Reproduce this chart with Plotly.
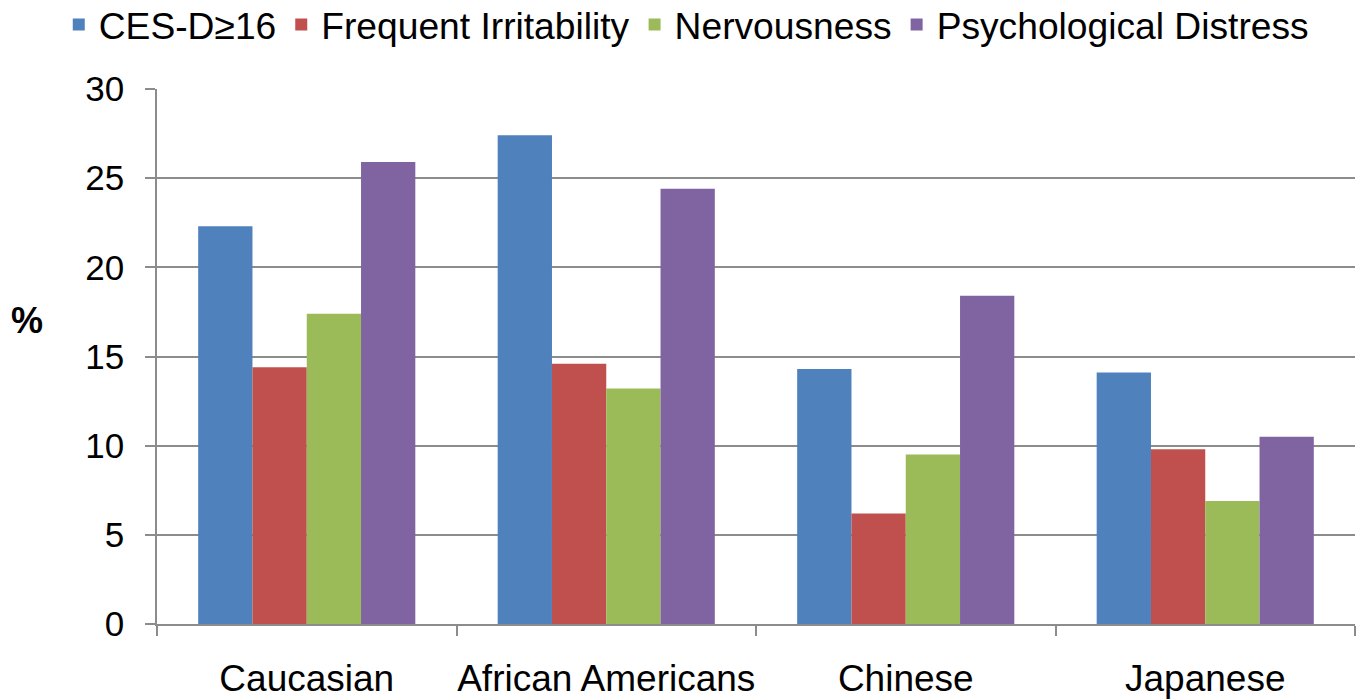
import plotly.graph_objects as go

# Prevalence (%) of each symptom measure by ethnic group
groups = ["Caucasian", "African Americans", "Chinese", "Japanese"]
series_names = ["CES-D≥16", "Frequent Irritability", "Nervousness", "Psychological Distress"]
ces_d = [22.3, 27.4, 14.3, 14.1]
irritability = [14.4, 14.6, 6.2, 9.8]
nervousness = [17.4, 13.2, 9.5, 6.9]
distress = [25.9, 24.4, 18.4, 10.5]
y_ticks = [0, 5, 10, 15, 20, 25, 30]

colors = ["#4F81BD", "#C0504D", "#9BBB59", "#8064A2"]
values = [ces_d, irritability, nervousness, distress]

FONT = "Liberation Sans, Arial, sans-serif"
GRID = "#8c8c8c"

fig = go.Figure()
for name, vals, col in zip(series_names, values, colors):
    fig.add_trace(go.Bar(
        x=groups, y=vals, name=name,
        marker=dict(color=col, line=dict(width=0)),
    ))

fig.update_layout(
    width=1361, height=700,
    margin=dict(l=157, r=6, t=89, b=76, autoexpand=False),
    paper_bgcolor="white", plot_bgcolor="white",
    barmode="group", bargap=0.275, bargroupgap=0,
    font=dict(family=FONT, size=35, color="black"),
    legend=dict(
        orientation="h", x=-0.082, xanchor="left",
        y=1.12, yanchor="middle",
        font=dict(family=FONT, size=37.2, color="black"),
        bgcolor="rgba(0,0,0,0)",
    ),
    xaxis=dict(
        showline=True, linecolor=GRID, linewidth=1.5,
        ticks="outside", tickson="boundaries", ticklen=10,
        tickcolor=GRID, tickwidth=1.5, tickangle=0, automargin=False,
        tickfont=dict(family=FONT, size=37, color="black"),
        ticklabelstandoff=21,
        showgrid=False,
    ),
    yaxis=dict(
        range=[0, 30], tickvals=y_ticks, automargin=False,
        showline=True, linecolor=GRID, linewidth=1.5,
        ticks="outside", ticklen=10, tickcolor=GRID, tickwidth=1.5,
        tickfont=dict(family=FONT, size=35, color="black"),
        ticklabelstandoff=14,
        showgrid=True, gridcolor=GRID, gridwidth=1.5,
        zeroline=False,
    ),
    annotations=[dict(
        text="<b>%</b>", xref="paper", yref="paper",
        x=-0.1085, y=0.568, xanchor="center", yanchor="middle",
        showarrow=False, font=dict(family=FONT, size=36, color="black"),
    )],
)

fig.write_html("out.html")
